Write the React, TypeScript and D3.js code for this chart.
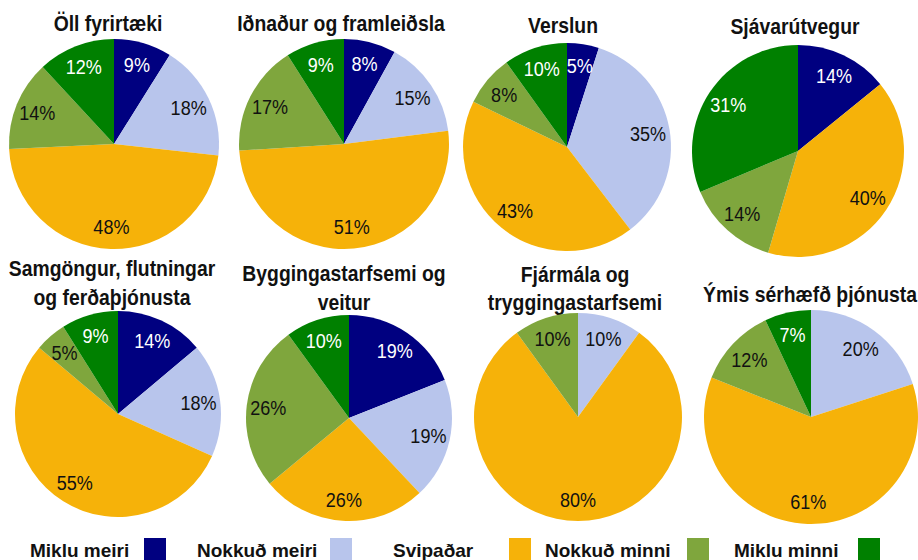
import * as d3 from 'd3';

const categories = ['Miklu meiri', 'Nokkuð meiri', 'Svipaðar', 'Nokkuð minni', 'Miklu minni'];
const colors = ['#000080', '#B8C5EC', '#F6B209', '#7FA63D', '#008000'];
const textColors = ['#fff', '#111', '#111', '#111', '#fff'];

// Share of firms per answer (%), order = categories
const allFirms = [9, 18, 48, 14, 12];
const industry = [8, 15, 51, 17, 9];
const retail = [5, 35, 43, 8, 10];
const fisheries = [14, 0, 40, 14, 31];
const transport = [14, 18, 55, 5, 9];
const construction = [19, 19, 26, 26, 10];
const finance = [0, 10, 80, 10, 0];
const services = [0, 20, 61, 12, 7];

const titles = [
  ['Öll fyrirtæki'],
  ['Iðnaður og framleiðsla'],
  ['Verslun'],
  ['Sjávarútvegur'],
  ['Samgöngur, flutningar', 'og ferðaþjónusta'],
  ['Byggingastarfsemi og', 'veitur'],
  ['Fjármála og', 'tryggingastarfsemi'],
  ['Ýmis sérhæfð þjónusta'],
];
const series = [allFirms, industry, retail, fisheries, transport, construction, finance, services];

// layout: pie centre, radius, title centre x, first baseline, line gap
const layout = [
  { cx: 114, cy: 144, r: 105, tx: 108, ty: 31, lh: 0 },
  { cx: 344, cy: 144, r: 105, tx: 341, ty: 31, lh: 0 },
  { cx: 567, cy: 147, r: 104, tx: 563, ty: 33, lh: 0 },
  { cx: 798, cy: 151, r: 106, tx: 795, ty: 34, lh: 0 },
  { cx: 118, cy: 414, r: 103, tx: 112, ty: 276, lh: 29 },
  { cx: 349, cy: 418, r: 103, tx: 344, ty: 281, lh: 29 },
  { cx: 578, cy: 417, r: 104, tx: 575, ty: 282, lh: 28 },
  { cx: 811, cy: 417, r: 107, tx: 810, ty: 302, lh: 0 },
];

const legendX = [30, 197, 393, 545, 734];
const swatchX = [144, 330, 509, 687, 858];

// condensed look: Liberation Sans squeezed horizontally
const FONT = '"Liberation Sans", Arial, sans-serif';

function NText({ x, y, size, bold, fill, anchor = 'start', sx = 1, children }: any) {
  return (
    <text transform={`translate(${x},${y}) scale(${sx},1)`} textAnchor={anchor}
      style={{ fontFamily: FONT, fontSize: size, fontWeight: bold ? 700 : 400 }} fill={fill}>
      {children}
    </text>
  );
}

function Pie({ values, title, pos }: { values: number[]; title: string[]; pos: any }) {
  const pie = d3.pie<number>().value(d => d).sort(null);
  const arcs = pie(values).map((a, i) => ({ ...a, idx: i }));
  const arc = d3.arc<any>().innerRadius(0).outerRadius(pos.r);
  const labelArc = d3.arc<any>().innerRadius(pos.r * 0.79).outerRadius(pos.r * 0.79);
  return (
    <g>
      {title.map((line, i) => (
        <NText key={i} x={pos.tx} y={pos.ty + i * pos.lh} size={22} bold sx={0.88} fill="#111" anchor="middle">
          {line}
        </NText>
      ))}
      <g transform={`translate(${pos.cx},${pos.cy})`}>
        {arcs.filter(a => a.value > 0).map(a => (
          <path key={a.idx} d={arc(a) as string} fill={colors[a.idx]} />
        ))}
        {arcs.filter(a => a.value > 0).map(a => {
          const [x, y] = labelArc.centroid(a);
          return (
            <NText key={'l' + a.idx} x={x} y={y + 7.5} size={21} sx={0.86} fill={textColors[a.idx]} anchor="middle">
              {a.value}%
            </NText>
          );
        })}
      </g>
    </g>
  );
}

export default function App() {
  return (
    <svg width={918} height={560} style={{ position: 'absolute', left: 0, top: 0, background: '#fff' }}>
      {series.map((s, i) => (
        <Pie key={i} values={s} title={titles[i]} pos={layout[i]} />
      ))}
      {categories.map((c, i) => (
        <g key={c}>
          <NText x={legendX[i]} y={557} size={19} bold fill="#111">{c}</NText>
          <rect x={swatchX[i]} y={538} width={22} height={22} fill={colors[i]} />
        </g>
      ))}
    </svg>
  );
}
